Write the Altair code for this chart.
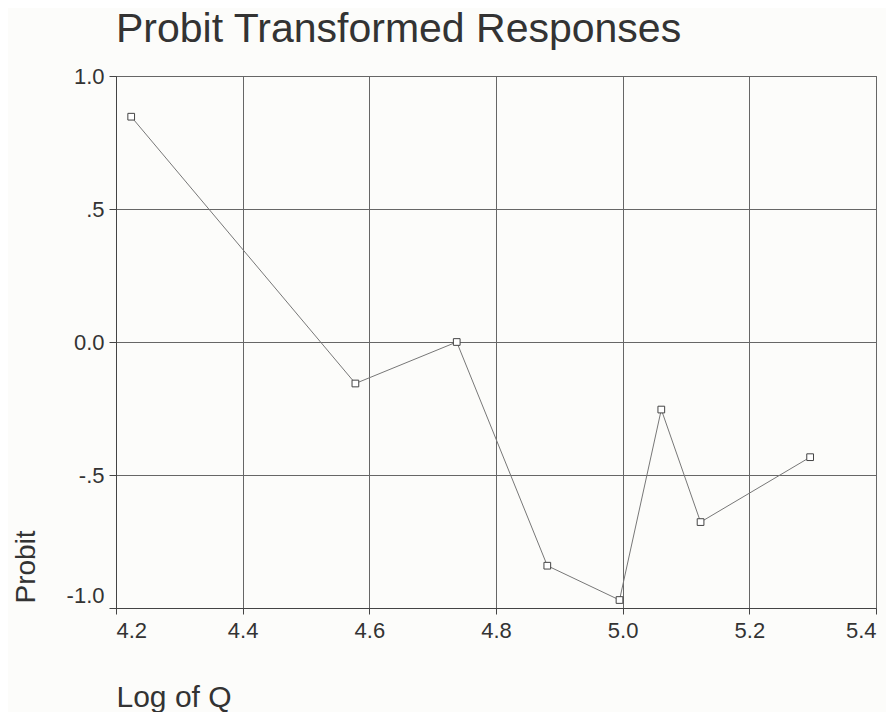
import altair as alt
import pandas as pd

# Values
log_q = [4.224, 4.578, 4.738, 4.881, 4.995, 5.061, 5.123, 5.296]
probit = [0.847, -0.156, 0.0, -0.841, -0.970, -0.254, -0.677, -0.433]
x_ticks = [4.2, 4.4, 4.6, 4.8, 5.0, 5.2, 5.4]
y_ticks = [-1.0, -0.5, 0.0, 0.5, 1.0]
chart_title = ["Probit Transformed Responses"]

df = pd.DataFrame({"logq": log_q, "probit": probit})

FONT = "Liberation Sans"

x_enc = alt.X(
    "logq:Q",
    scale=alt.Scale(domain=[4.2, 5.4], nice=False, zero=False),
    axis=alt.Axis(
        values=x_ticks, format=".1f", title="Log of Q",
        titleAnchor="start", titleAlign="left", titleBaseline="alphabetic",
        titleX=0, titleY=98, titleFontSize=30, titleFontWeight="normal",
        labelFontSize=22, labelPadding=6, tickSize=6,
    ),
)
y_enc = alt.Y(
    "probit:Q",
    scale=alt.Scale(domain=[-1.0, 1.0], nice=False, zero=False),
    axis=alt.Axis(
        values=y_ticks, title="Probit",
        labelExpr="datum.value == 0.5 ? '.5' : datum.value == -0.5 ? '-.5' : datum.value == -1 ? '-1.0' : datum.value == 1 ? '1.0' : '0.0'",
        titleAngle=270, titleAlign="left", titleBaseline="alphabetic",
        titleX=-82, titleY=527, titleFontSize=28, titleFontWeight="normal",
        labelFontSize=22, labelPadding=5, tickSize=7,
        labelOffset=alt.condition("datum.value == -1", alt.value(-13), alt.value(0)),
    ),
)

line = alt.Chart(df).mark_line(color="#777777", strokeWidth=1).encode(x=x_enc, y=y_enc)
pts = alt.Chart(df).mark_point(
    shape="square", size=45, filled=False, color="#444444", fill="#ffffff",
    fillOpacity=1, strokeWidth=1, opacity=1,
).encode(x=x_enc, y=y_enc)

title_mark = alt.Chart(pd.DataFrame({"t": chart_title})).mark_text(
    align="left", baseline="alphabetic", fontSize=41, font=FONT, color="#333333",
).encode(text="t:N", x=alt.value(0), y=alt.value(-34))

chart = (
    alt.layer(line, pts, title_mark)
    .properties(
        width=760, height=532,
        autosize=alt.AutoSizeParams(type="none"),
        padding={"left": 108, "top": 68, "right": 10, "bottom": 104},
        background="#fcfcfa",
    )
    .configure_view(stroke="#555555", strokeWidth=1)
    .configure_axis(
        grid=True, gridColor="#666666", gridOpacity=1, gridWidth=1,
        domainColor="#444444", tickColor="#444444",
        labelFont=FONT, titleFont=FONT, labelColor="#333333", titleColor="#333333",
    )
)

chart.save("out.html", embed_options={"renderer": "svg", "actions": False})
